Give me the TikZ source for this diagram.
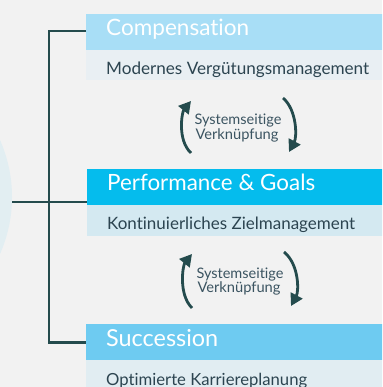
\documentclass[tikz,border=0pt]{standalone}
\usepackage{fontspec}
\setmainfont{Lato}[Ligatures={NoCommon,NoRare,NoContextual}]
\usetikzlibrary{arrows.meta}
\definecolor{bgc}{HTML}{F2F2F2}
\definecolor{hubc}{HTML}{E2EEF2}
\definecolor{compH}{HTML}{A8DEF6}
\definecolor{compS}{HTML}{E9EFF3}
\definecolor{perfH}{HTML}{05BCED}
\definecolor{perfS}{HTML}{D4E9F1}
\definecolor{succH}{HTML}{6ECBF1}
\definecolor{succS}{HTML}{E1EDF2}
\definecolor{treec}{HTML}{244B4D}
\definecolor{subtext}{HTML}{2C4450}
\definecolor{linktext}{HTML}{3B5461}
\newcommand\fitto[2]{\resizebox{#1}{!}{#2}}
\begin{document}
\begin{tikzpicture}[x=1pt,y=-1pt,
 band/.style={rectangle, draw=none, inner sep=0pt, anchor=north west, minimum width=300pt},
 headtxt/.style={anchor=base west, inner sep=0pt, text=white, font=\fontsize{22}{26}\selectfont},
 subtxt/.style={anchor=base west, inner sep=0pt, text=subtext, font=\fontsize{15.5}{18}\selectfont},
 linktxt/.style={anchor=base, inner sep=0pt, text=linktext, font=\fontsize{12.5}{15}\selectfont},
 tree/.style={draw=treec, line width=2.8pt},
 cyc/.style={draw=treec, line width=2.8pt, -{Triangle[length=12pt,width=13pt]}}
]
\useasboundingbox (0,0) rectangle (382,387);
\fill[bgc] (0,0) rectangle (382,387);
\clip (0,0) rectangle (382,387);

% hub circle
\node[circle, fill=hubc, draw=none, minimum size=282pt, inner sep=0pt] (hub) at (-129,197) {};

% bands
\node[band, fill=compH, minimum height=36pt] (comp) at (86,14) {};
\node[band, fill=compS, minimum height=30pt] (compsub) at (86,50) {};
\node[band, fill=perfH, minimum height=36pt] (perf) at (87,169) {};
\node[band, fill=perfS, minimum height=31pt] (perfsub) at (87,205) {};
\node[band, fill=succH, minimum height=36pt] (succ) at (86,324) {};
\node[band, fill=succS, minimum height=30pt] (succsub) at (86,360) {};

% tree
\coordinate (trunk) at (49,0);
\draw[tree] (comp.west |- 0,31) -| (trunk |- succ.west) -- (succ.west);
\draw[tree] (hub.east |- 0,202) -- (perf.west |- 0,202);

% texts
\node[headtxt] (compT) at (106,35.7) {\fitto{143pt}{Compensat\kern0pt ion}};
\node[subtxt] (compD) at (106,75) {\fitto{263pt}{Modernes Vergütungsmanagement}};
\node[headtxt] (perfT) at (107,190) {\fitto{208pt}{Performance \& Goals}};
\node[subtxt] (perfD) at (107,229.3) {\fitto{248pt}{Kontinuierliches Zielmanagement}};
\node[headtxt] (succT) at (106,346) {\fitto{112pt}{Succession}};
\node[subtxt] (succD) at (106,385) {\fitto{201pt}{Optimierte Karriereplanung}};

% link group 1
\node[linktxt] (l1a) at (238,125) {\fitto{87pt}{Systemseitige}};
\node[linktxt] (l1b) at (237,139.5) {\fitto{83pt}{Verknüpfung}};
\coordinate (a1s) at (191,153);
\coordinate (a1e) at (191,101);
\coordinate (b1s) at (283,98);
\coordinate (b1e) at (289,152);
\draw[cyc] (a1s) .. controls (177,140) and (182,112) .. (a1e);
\draw[cyc] (b1s) .. controls (297,110) and (297,137) .. (b1e);

% link group 2
\node[linktxt] (l2a) at (240,278) {\fitto{87pt}{Systemseitige}};
\node[linktxt] (l2b) at (239,292.7) {\fitto{83pt}{Verknüpfung}};
\coordinate (a2s) at (192,308);
\coordinate (a2e) at (192,254);
\coordinate (b2s) at (284,252);
\coordinate (b2e) at (291,306);
\draw[cyc] (a2s) .. controls (178,294) and (183,265) .. (a2e);
\draw[cyc] (b2s) .. controls (299,264) and (299,291) .. (b2e);
\end{tikzpicture}
\end{document}
